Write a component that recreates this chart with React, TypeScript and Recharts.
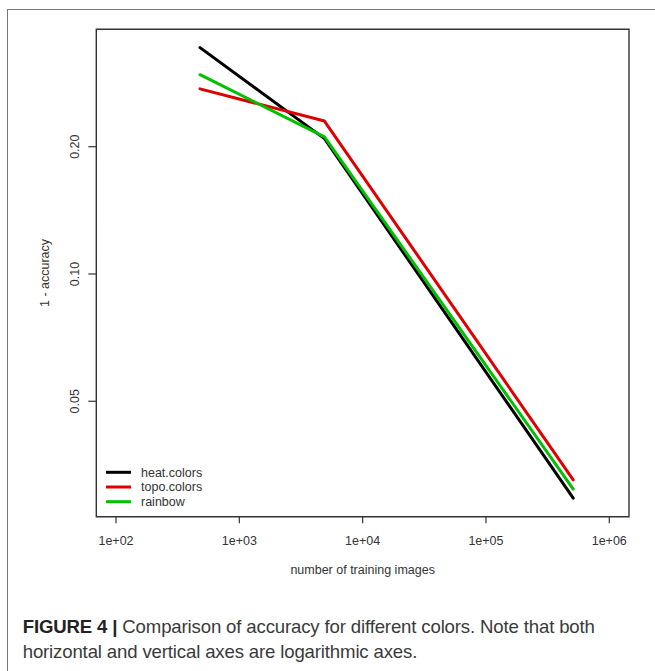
import React from 'react';
import { LineChart, Line, XAxis, YAxis, ReferenceArea, Legend } from 'recharts';

// ---- data ----
const trainingImages = [480, 4900, 510000];
const heatColors = [0.343, 0.209, 0.0295];
const topoColors = [0.274, 0.23, 0.0326];
const rainbowValues = [0.296, 0.211, 0.031];
const xTicks = [100, 1000, 10000, 100000, 1000000];
const yTicks = [0.05, 0.1, 0.2];
const seriesKeys = ['heat', 'topo', 'rainbow'];
const seriesNames = ['heat.colors', 'topo.colors', 'rainbow'];
const seriesColors = ['#000000', '#e00000', '#00c000'];
const xDomain = [69.2, 1445000];
const yDomain = [0.02667, 0.379];

const data = trainingImages.map((n, i) => ({
  n,
  heat: heatColors[i],
  topo: topoColors[i],
  rainbow: rainbowValues[i],
}));

const FONT = '"Liberation Sans", Arial, sans-serif';
const TEXT = '#333333';

const fmtX = (v: number) => {
  const e = Math.round(Math.log10(v));
  return `1e+${String(e).padStart(2, '0')}`;
};

const XTick = (props: any) => {
  const { x, y, payload } = props;
  return (
    <text x={x} y={y} textAnchor="middle" fontSize={12.5} fill={TEXT} fontFamily={FONT}>
      {fmtX(payload.value)}
    </text>
  );
};

const YTick = (props: any) => {
  const { x, y, payload } = props;
  return (
    <text
      x={x}
      y={y}
      transform={`rotate(-90, ${x}, ${y})`}
      textAnchor="middle"
      fontSize={12.5}
      fill={TEXT}
      fontFamily={FONT}
    >
      {Number(payload.value).toFixed(2)}
    </text>
  );
};

const renderLegend = (props: any) => {
  const payload = [...(props.payload || [])].sort(
    (a: any, b: any) => seriesNames.indexOf(a.value) - seriesNames.indexOf(b.value)
  );
  return (
    <svg width={130} height={50} style={{ display: 'block' }}>
      {payload.map((p: any, i: number) => {
        const cy = 10.3 + i * 14.7;
        return (
          <g key={i}>
            <line x1={6} x2={31} y1={cy} y2={cy} stroke={p.color} strokeWidth={3} />
            <text x={41} y={cy + 4.2} fontSize={12.5} fill={TEXT} fontFamily={FONT}>
              {p.value}
            </text>
          </g>
        );
      })}
    </svg>
  );
};

export default function App() {
  return (
    <div
      style={{
        position: 'absolute',
        left: 0,
        top: 0,
        width: 655,
        height: 671,
        overflow: 'hidden',
        background: '#fff',
      }}
    >
      <div
        style={{
          position: 'absolute',
          left: 7,
          top: 9,
          width: 700,
          height: 700,
          borderLeft: '1.5px solid #777',
          borderTop: '1.5px solid #777',
        }}
      />
      <div style={{ position: 'absolute', left: 0, top: 0 }}>
        <LineChart
          width={655}
          height={600}
          data={data}
          margin={{ top: 29.3, right: 26, bottom: 23.3, left: 0 }}
        >
          <XAxis
            dataKey="n"
            type="number"
            scale="log"
            domain={xDomain}
            ticks={xTicks}
            allowDataOverflow
            height={60}
            axisLine={false}
            tickLine={{ stroke: '#333', strokeWidth: 1.2 }}
            tickSize={6.5}
            tickMargin={21.5}
            tick={<XTick />}
            interval={0}
            label={{
              content: (p: any) => {
                const vb = p.viewBox || {};
                return (
                  <text
                    x={vb.x + vb.width / 2}
                    y={vb.y + 57.3}
                    textAnchor="middle"
                    fontSize={12.5}
                    fill={TEXT}
                    fontFamily={FONT}
                  >
                    number of training images
                  </text>
                );
              },
            }}
          />
          <YAxis
            type="number"
            scale="log"
            domain={yDomain}
            ticks={yTicks}
            allowDataOverflow
            width={96.3}
            axisLine={false}
            tickLine={{ stroke: '#333', strokeWidth: 1.2 }}
            tickSize={8}
            tickMargin={9.3}
            tick={<YTick />}
            interval={0}
            label={{
              content: (p: any) => {
                const vb = p.viewBox || {};
                const cx = 48.5;
                const cy = vb.y + vb.height / 2;
                return (
                  <text
                    x={cx}
                    y={cy}
                    transform={`rotate(-90, ${cx}, ${cy})`}
                    textAnchor="middle"
                    fontSize={12.5}
                    fill={TEXT}
                    fontFamily={FONT}
                  >
                    1 - accuracy
                  </text>
                );
              },
            }}
          />
          <ReferenceArea
            x1={xDomain[0]}
            x2={xDomain[1]}
            y1={yDomain[0]}
            y2={yDomain[1]}
            fill="none"
            fillOpacity={0}
            stroke="#333"
            strokeWidth={1.4}
            ifOverflow="visible"
          />
          {seriesKeys.map((k, i) => (
            <Line
              key={k}
              type="linear"
              dataKey={k}
              name={seriesNames[i]}
              stroke={seriesColors[i]}
              strokeWidth={3}
              strokeLinecap="round"
              strokeLinejoin="round"
              dot={false}
              activeDot={false}
              isAnimationActive={false}
            />
          ))}
          <Legend
            layout="horizontal"
            verticalAlign="middle"
            align="center"
            content={renderLegend}
            wrapperStyle={{ position: 'absolute', left: 100, top: 462, width: 130, height: 50 }}
          />
        </LineChart>
      </div>
      <div
        style={{
          position: 'absolute',
          left: 22.7,
          top: 614,
          width: 630,
          fontFamily: FONT,
          fontSize: 18.6,
          lineHeight: '25px',
          color: '#3a3a3a',
          whiteSpace: 'nowrap',
          letterSpacing: '-0.15px',
        }}
      >
        <span style={{ fontWeight: 'bold', color: '#222' }}>FIGURE 4 |</span> Comparison of accuracy
        for different colors. Note that both
        <br />
        horizontal and vertical axes are logarithmic axes.
      </div>
    </div>
  );
}
